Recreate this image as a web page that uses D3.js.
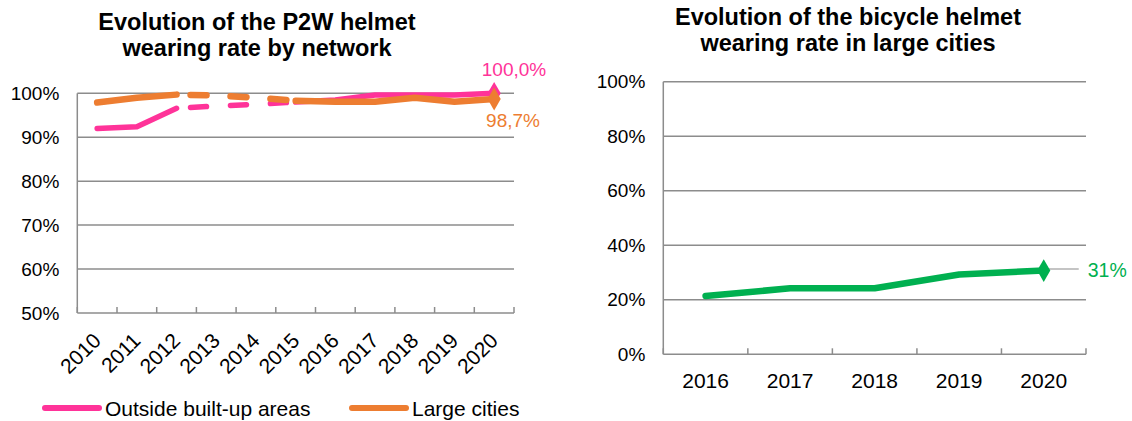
<!DOCTYPE html>
<html>
<head>
<meta charset="utf-8">
<script src="https://cdn.jsdelivr.net/npm/d3@7"></script>
<style>
  body { margin: 0; background: #fff; }
  svg { font-family: "Liberation Sans", Arial, sans-serif; }
</style>
</head>
<body>
<svg id="chart" width="1132" height="421"></svg>
<script>
// left chart data
const p2wYears = ["2010", "2011", "2012", "2013", "2014", "2015", "2016", "2017", "2018", "2019", "2020"]
const outsideBuiltUp = [0.920, 0.924, 0.966, 0.971, 0.975, 0.980, 0.985, 0.996, 0.996, 0.996, 1.000]
const largeCities = [0.979, 0.990, 0.997, 0.995, 0.990, 0.983, 0.981, 0.981, 0.990, 0.981, 0.987]
const dashedFrom = "2012"
const dashedTo = "2015"
const p2wTicks = [0.5, 0.6, 0.7, 0.8, 0.9, 1.0]

// right chart data
const bikeYears = ["2016", "2017", "2018", "2019", "2020"]
const bikeRate = [0.214, 0.242, 0.242, 0.293, 0.307]
const bikeTicks = [0, 0.2, 0.4, 0.6, 0.8, 1.0]

const svg = d3.select("#chart")
const gridColor = "#8c8c8c"
const pct = d => Math.round(d * 100) + "%"

/**
 * Draws the gray grid, axis line, inner tick marks and y labels of a chart.
 */
function drawFrame(x, y, yTicks) {
    const [x0, x1] = x.range()
    const g = svg.append("g")
    g.selectAll(".grid").data(yTicks).join("line")
        .attr("x1", x0).attr("x2", x1)
        .attr("y1", d => y(d)).attr("y2", d => y(d))
        .attr("stroke", gridColor).attr("stroke-width", 1.5)
    g.append("line")
        .attr("x1", x0).attr("x2", x0)
        .attr("y1", y.range()[0]).attr("y2", y.range()[1])
        .attr("stroke", gridColor).attr("stroke-width", 1.5)
    // tick marks at band boundaries, pointing up into the plot
    const bounds = x.domain().map(d => x(d)).concat([x1])
    g.selectAll(".tick").data(bounds).join("line")
        .attr("x1", d => d).attr("x2", d => d)
        .attr("y1", y.range()[0]).attr("y2", y.range()[0] - 6)
        .attr("stroke", gridColor).attr("stroke-width", 1.5)
    g.selectAll(".ylab").data(yTicks).join("text")
        .attr("x", x0 - 18).attr("y", d => y(d) + 6.5)
        .attr("text-anchor", "end").attr("font-size", 19)
        .attr("fill", "#000")
        .text(pct)
    return g
}

/**
 * Draws a two-line bold title centered at cx.
 */
function title(lines, cx, y0) {
    svg.append("text")
        .attr("text-anchor", "middle").attr("font-size", 23.5).attr("font-weight", "bold")
        .selectAll("tspan").data(lines).join("tspan")
        .attr("x", cx).attr("y", (d, i) => y0 + i * 26)
        .text(d => d)
}

// ---------- left chart ----------
const xL = d3.scaleBand().domain(p2wYears).range([77.3, 514])
const yL = d3.scaleLinear().domain([0.5, 1.0]).range([313, 93.3])
const cxL = d => xL(d) + xL.bandwidth() / 2

drawFrame(xL, yL, p2wTicks)
title(["Evolution of the P2W helmet", "wearing rate by network"], 257, 30)

svg.append("g").selectAll("text").data(p2wYears).join("text")
    .attr("transform", d => `translate(${cxL(d) + 5},342) rotate(-45)`)
    .attr("text-anchor", "end").attr("font-size", 21)
    .text(d => d)

const seriesL = [
    {name: "Outside built-up areas", values: outsideBuiltUp, color: "#ff3399", width: 5.5},
    {name: "Large cities", values: largeCities, color: "#ed7d31", width: 6.5}
]

const line = d3.line().x(d => cxL(d.year)).y(d => yL(d.v))
const iFrom = p2wYears.indexOf(dashedFrom)
const iTo = p2wYears.indexOf(dashedTo)

seriesL.forEach(s => {
    const pts = p2wYears.map((year, i) => ({year, v: s.values[i]}))
    const parts = [
        {pts: pts.slice(0, iFrom + 1), dash: null},
        {pts: pts.slice(iFrom, iTo + 1), dash: "16,24"},
        {pts: pts.slice(iTo), dash: null}
    ]
    parts.forEach(p => {
        svg.append("path")
            .attr("d", line(p.pts))
            .attr("fill", "none")
            .attr("stroke", s.color)
            .attr("stroke-width", s.width)
            .attr("stroke-linecap", "round")
            .attr("stroke-linejoin", "round")
            .attr("stroke-dasharray", p.dash)
            .attr("stroke-dashoffset", p.dash ? -14 : null)
    })
    const last = pts[pts.length - 1]
    svg.append("path")
        .attr("d", d3.symbol(d3.symbolDiamond, 150)())
        .attr("transform", `translate(${cxL(last.year)},${yL(last.v)})`)
        .attr("fill", s.color)
})

// end labels
svg.append("text").attr("x", 514).attr("y", 76)
    .attr("text-anchor", "middle").attr("font-size", 19).attr("fill", "#ff3399")
    .text("100,0%")
svg.append("text").attr("x", 513).attr("y", 127)
    .attr("text-anchor", "middle").attr("font-size", 19).attr("fill", "#ed7d31")
    .text("98,7%")

// legend
const legend = svg.append("g").selectAll("g").data(seriesL).join("g")
    .attr("transform", (d, i) => `translate(${[45, 352][i]},408)`)
legend.append("line")
    .attr("x1", 0).attr("x2", 54).attr("y1", 0).attr("y2", 0)
    .attr("stroke", d => d.color).attr("stroke-width", 6).attr("stroke-linecap", "round")
legend.append("text")
    .attr("x", 60).attr("y", 7.5).attr("font-size", 21)
    .text(d => d.name)

// ---------- right chart ----------
const xR = d3.scaleBand().domain(bikeYears).range([663.3, 1086])
const yR = d3.scaleLinear().domain([0, 1]).range([354.3, 81.7])
const cxR = d => xR(d) + xR.bandwidth() / 2

drawFrame(xR, yR, bikeTicks)
title(["Evolution of the bicycle helmet", "wearing rate in large cities"], 848, 25)

svg.append("g").selectAll("text").data(bikeYears).join("text")
    .attr("x", d => cxR(d)).attr("y", 388)
    .attr("text-anchor", "middle").attr("font-size", 21)
    .text(d => d)

const bikePts = bikeYears.map((year, i) => ({year, v: bikeRate[i]}))
const lastBike = bikePts[bikePts.length - 1]

// leader line to label
svg.append("line")
    .attr("x1", cxR(lastBike.year)).attr("x2", cxR(lastBike.year) + 35)
    .attr("y1", yR(lastBike.v) - 1.5).attr("y2", yR(lastBike.v) - 1.5)
    .attr("stroke", "#b0b0b0").attr("stroke-width", 1.5)

svg.append("path")
    .attr("d", d3.line().x(d => cxR(d.year)).y(d => yR(d.v))(bikePts))
    .attr("fill", "none").attr("stroke", "#00b050").attr("stroke-width", 6.5)
    .attr("stroke-linecap", "round").attr("stroke-linejoin", "round")

svg.append("path")
    .attr("d", d3.symbol(d3.symbolDiamond, 150)())
    .attr("transform", `translate(${cxR(lastBike.year)},${yR(lastBike.v)})`)
    .attr("fill", "#00b050")

svg.append("text")
    .attr("x", cxR(lastBike.year) + 44).attr("y", yR(lastBike.v) + 6.5)
    .attr("font-size", 19.5).attr("fill", "#00b050")
    .text(pct(lastBike.v))
</script>
</body>
</html>
